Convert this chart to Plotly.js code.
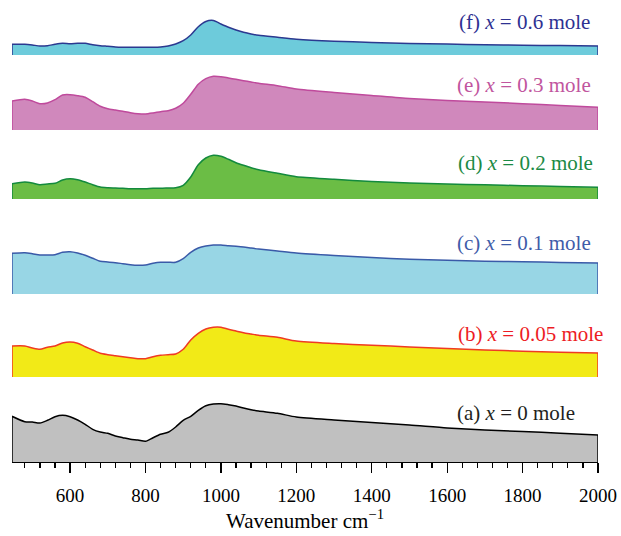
<!DOCTYPE html>
<html>
<head>
<meta charset="utf-8">
<script src="https://cdn.plot.ly/plotly-3.0.1.min.js"></script>
<style>html,body{margin:0;padding:0;background:#fff;}#chart{width:621px;height:536px;}</style>
</head>
<body>
<div id="chart"></div>
<script>
// Wavenumber (cm^-1)
const wavenumber = [446,480,500,520,540,560,580,600,620,640,660,680,700,720,740,760,780,800,820,840,860,880,900,920,940,960,980,1000,1020,1040,1060,1080,1100,1150,1200,1300,1400,1500,1600,1700,1800,1900,2000];

// Spectra (arbitrary transmittance units above each baseline)
const specA = [45.7,40.3,40,39,41.7,45.3,46.7,45.3,42,37.7,32.7,30,28.7,26,24.3,22.7,22,20.7,24.3,27.7,29.7,35,41.7,45.7,51.7,56.3,58,58.3,57.3,56,54,52.3,51,48.7,45,42,39.5,37,34,32,30.5,28.8,27];
const specB = [31,31,29,27.7,29.7,31,34,35,33.7,30.3,27,23.7,22.3,21.3,20.3,19.3,18.3,18.3,20.3,21.7,22.3,23,27.7,37,43.7,48,49.7,49.7,47.7,46,44.3,43,41.7,39.7,36,33.5,31.8,30,28.5,27,25.8,24.8,24];
const specC = [40.7,41.3,40.3,39,39,39.3,41.7,42.3,41,38.7,35.7,32.7,32,31.3,30.3,29.3,28.7,29,30.7,31.7,31.7,31.7,35.3,41.7,46,48,49,49,48.3,47.7,47,46,45,43,41,38.5,36.5,34.7,33.7,32.8,32.2,31.6,31];
const specD = [15.3,17,16,14.3,15,15.7,19,20.3,19.3,17,14.3,12,11.3,11,10.7,10.3,10.3,10.3,10.7,10.7,11,11.3,13.7,22,34.3,41,43.7,42.7,39.7,36.3,33.7,31.3,29.3,25.7,22.3,19.8,17.5,16,15,14.2,13.3,12.5,11.7];
const specE = [29,30.7,29,26.3,27,30.3,35,35.3,34.3,32.7,28.3,23.7,21.3,20,18.7,17.3,16.3,16,17,18.3,19.3,21.7,26.7,35.7,45.7,51.3,53.7,53.3,52,50.7,49.3,48,46.7,44.3,41,37.5,34.5,31.5,29.5,28,26.3,24.5,22.7];
const specF = [10.7,10.7,10,9,9.3,10.7,11.7,11.3,11.7,11.7,10.3,9.3,8.7,8,7.7,7.7,7.7,7.7,7.7,8,9,11,14.3,20,28.3,33.5,34.5,31,27.7,25,22.7,21,19.7,17.7,15.8,13.8,12.6,11.6,10.9,10.3,9.8,9.4,9];

const labels = ["(a) <i>x</i> = 0 mole","(b) <i>x</i> = 0.05 mole","(c) <i>x</i> = 0.1 mole","(d) <i>x</i> = 0.2 mole","(e) <i>x</i> = 0.3 mole","(f) <i>x</i> = 0.6 mole"];
const tickVals = [600,800,1000,1200,1400,1600,1800,2000];

// styling / layout (not data)
const series = [specA, specB, specC, specD, specE, specF];
const fills = ['#c0c0c0','#f2ea17','#98d6e5','#6bbd45','#d088bc','#6dcbdb'];
const lines = ['#000000','#ef3b23','#3a5aa8','#138a3d','#bf4a9c','#2b3990'];
const textCols = ['#231f20','#ed1c24','#3f5ca9','#1b8a45','#c1559e','#2e3192'];
const H = 462; // plot area height in px
const offsets = [0,85,168,263,332,407];
const heights = [62,62,62,62,62,55];
const labelRight = [577,605,593,595,593,592];
const labelY = [413,334,243,163,85,22];

const traces = [];
const layout = {
  width:621, height:536,
  margin:{l:12,r:23,t:0,b:74},
  paper_bgcolor:'#fff', plot_bgcolor:'#fff',
  showlegend:false,
  font:{family:'Liberation Serif, Times New Roman, serif', color:'#000'},
  xaxis:{
    range:[446,2000], showgrid:false, zeroline:false,
    showline:true, linecolor:'#000', linewidth:1,
    ticks:'outside', ticklen:10, tickwidth:1.2, tickcolor:'#000',
    tickvals:tickVals, tickfont:{size:19, color:'#000'}, ticklabelstandoff:6,
    minor:{dtick:40, tick0:0, ticks:'outside', ticklen:5, tickwidth:1.2, tickcolor:'#000'},
    title:{text:'Wavenumber cm<sup>−1</sup>', font:{size:21,color:'#000'}, standoff:8}
  },
  annotations:[]
};

series.forEach((vals,i)=>{
  const ax = i===0 ? 'y' : 'y'+(i+1);
  const axKey = i===0 ? 'yaxis' : 'yaxis'+(i+1);
  layout[axKey] = {
    domain:[offsets[i]/H, Math.min(1,(offsets[i]+heights[i])/H)],
    range:[0,heights[i]], visible:false, fixedrange:true
  };
  traces.push({
    x:wavenumber, y:vals, xaxis:'x', yaxis:ax, type:'scatter', mode:'lines',
    line:{color:lines[i], width:1.5, shape:'spline', smoothing:0.7},
    fill:'tozeroy', fillcolor:fills[i], hoverinfo:'skip'
  });
  const n = wavenumber.length-1;
  traces.push({
    x:[wavenumber[0],wavenumber[0],null,wavenumber[n],wavenumber[n]],
    y:[0,vals[0],null,0,vals[n]],
    xaxis:'x', yaxis:ax, type:'scatter', mode:'lines',
    line:{color:lines[i], width:1.5}, hoverinfo:'skip'
  });
  layout.annotations.push({
    text:labels[i], xref:'paper', yref:'paper',
    x:(labelRight[i]-12)/586, y:(H-labelY[i])/H,
    xanchor:'right', yanchor:'middle', showarrow:false,
    font:{size:21, color:textCols[i], family:'Liberation Serif, Times New Roman, serif'}
  });
});

Plotly.newPlot('chart', traces, layout, {displayModeBar:false, staticPlot:true});
</script>
</body>
</html>
